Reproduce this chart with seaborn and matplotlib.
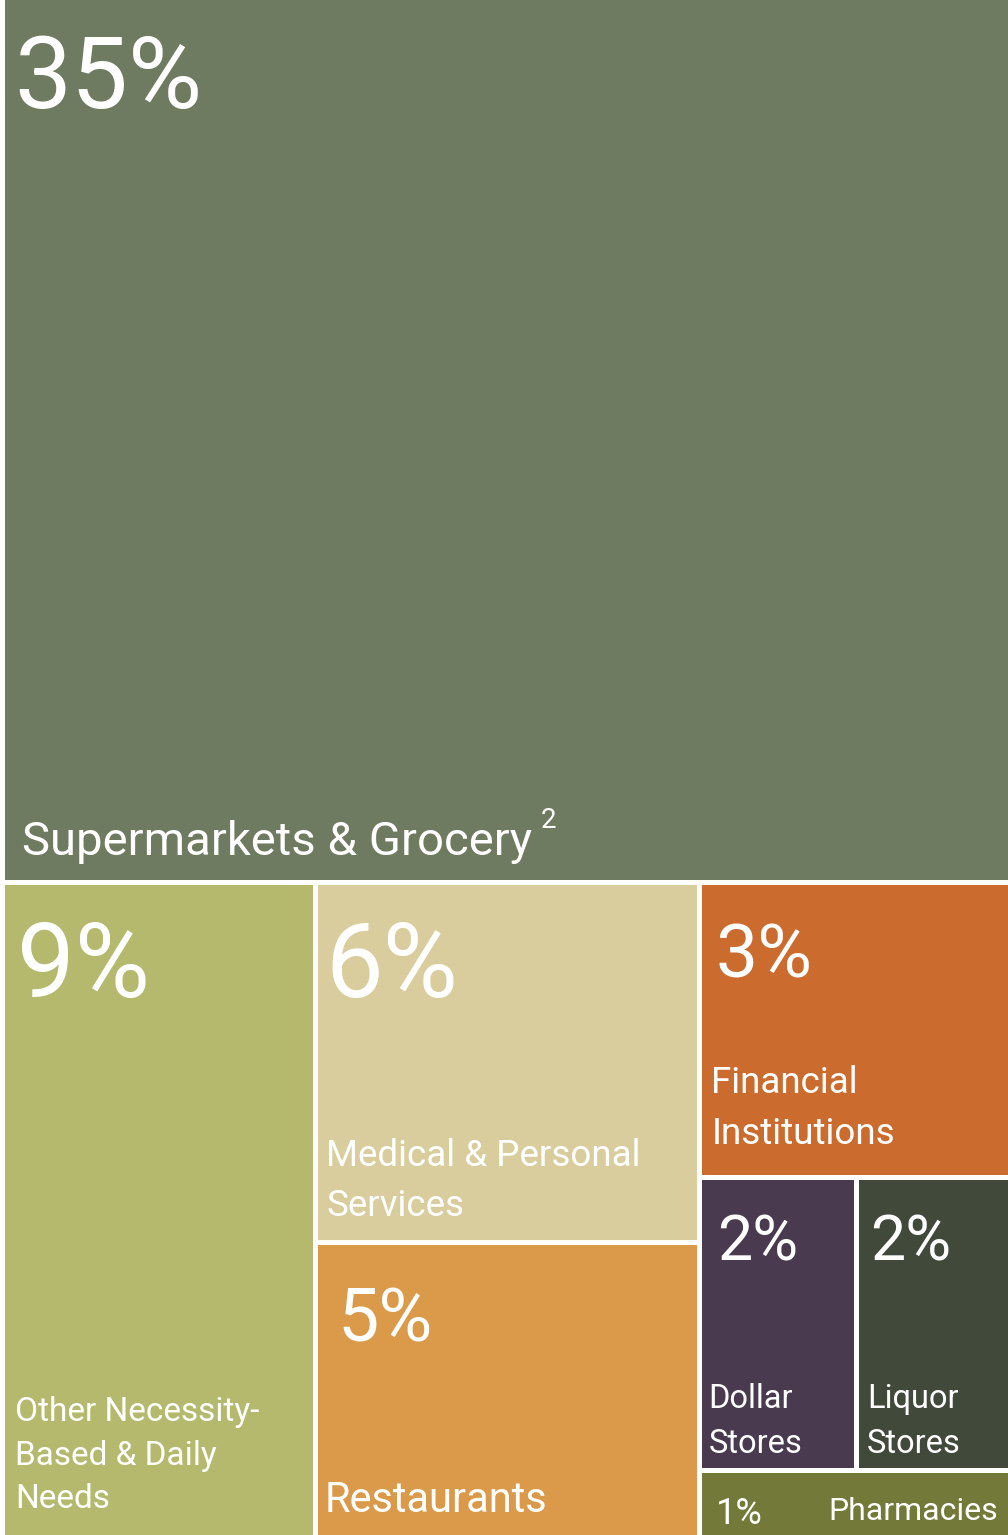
import seaborn as sns
import matplotlib.pyplot as plt
from matplotlib.patches import Rectangle

# tiles of the treemap
names = ['Supermarkets & Grocery', 'Other Necessity-\nBased & Daily\nNeeds',
         'Medical & Personal\nServices', 'Restaurants', 'Financial\nInstitutions',
         'Dollar\nStores', 'Liquor\nStores', 'Pharmacies']
pct_labels = ['35%', '9%', '6%', '5%', '3%', '2%', '2%', '1%']
# tile areas (share of the whole chart)
tile_area = [57.5, 13.2, 8.9, 7.3, 5.9, 2.95, 2.9, 1.35]
colors = ['#6e7b60', '#b5b96d', '#d9cd9d', '#da9a4a', '#cb6c2e',
          '#4a3a4f', '#414a3a', '#737938']

# nesting: which tiles go together, and split direction
tree = ('v', [0, ('h', [1, ('v', [2, 3]), ('v', [4, ('h', [5, 6]), 7])])])

W, H = 1008, 1535
GAP = 5


def weight(node):
    if isinstance(node, int):
        return tile_area[node]
    return sum(weight(n) for n in node[1])


def layout(node, x, y, w, h, out):
    if isinstance(node, int):
        out[node] = (x, y, w, h)
        return
    direction, kids = node
    total = sum(weight(k) for k in kids)
    pos = 0
    for k in kids:
        f = weight(k) / total
        if direction == 'v':
            layout(k, x, y + pos * h, w, f * h, out)
        else:
            layout(k, x + pos * w, y, f * w, h, out)
        pos += f


sns.set_theme(style='white')
plt.rcParams['font.family'] = ['Roboto', 'DejaVu Sans']

fig = plt.figure(figsize=(W / 100, H / 100), dpi=100)
ax = fig.add_axes([0, 0, 1, 1])
ax.set_xlim(0, W)
ax.set_ylim(H, 0)
ax.axis('off')

rects = {}
layout(tree, GAP / 2, -GAP / 2, W, H + GAP, rects)

# text placement per tile: (pct size, pct dx, pct baseline from top,
#                           label size, label dx, last-line baseline from bottom, line spacing)
txt = {
    0: (73, 9, 108, 34, 17, 25, 1.3),
    1: (74, 12, 112, 24, 10, 27, 1.45),
    2: (74, 7, 112, 26.5, 8, 24, 1.5),
    3: (53, 19, 96, 30, 7, 23, 1.3),
    4: (54, 13, 92, 26.5, 9, 31, 1.55),
    5: (45, 15, 80, 23.5, 6, 15, 1.5),
    6: (45, 11, 80, 23.5, 8, 15, 1.5),
}

for i, (x, y, w, h) in rects.items():
    x0, y0 = x + GAP / 2, y + GAP / 2
    w0, h0 = w - GAP, h - GAP
    ax.add_patch(Rectangle((x0, y0), w0, h0, facecolor=colors[i], edgecolor='none'))
    if i in txt:
        ps, pdx, pdy, ls, ldx, ldy, lsp = txt[i]
        ax.text(x0 + pdx, y0 + pdy, pct_labels[i], color='white', fontsize=ps,
                va='baseline', ha='left')
        ax.text(x0 + ldx, y0 + h0 - ldy, names[i], color='white', fontsize=ls,
                va='baseline', ha='left', linespacing=lsp, multialignment='left')
    else:
        ax.text(x0 + 14, y0 + 51, pct_labels[i], color='white', fontsize=26,
                va='baseline', ha='left')
        ax.text(x0 + w0 - 10, y0 + 47, names[i], color='white', fontsize=23,
                va='baseline', ha='right')

# footnote marker on the supermarkets label
ax.text(541, 828, '2', color='white', fontsize=20, va='baseline', ha='left')

fig.savefig('out.png', dpi=100)
